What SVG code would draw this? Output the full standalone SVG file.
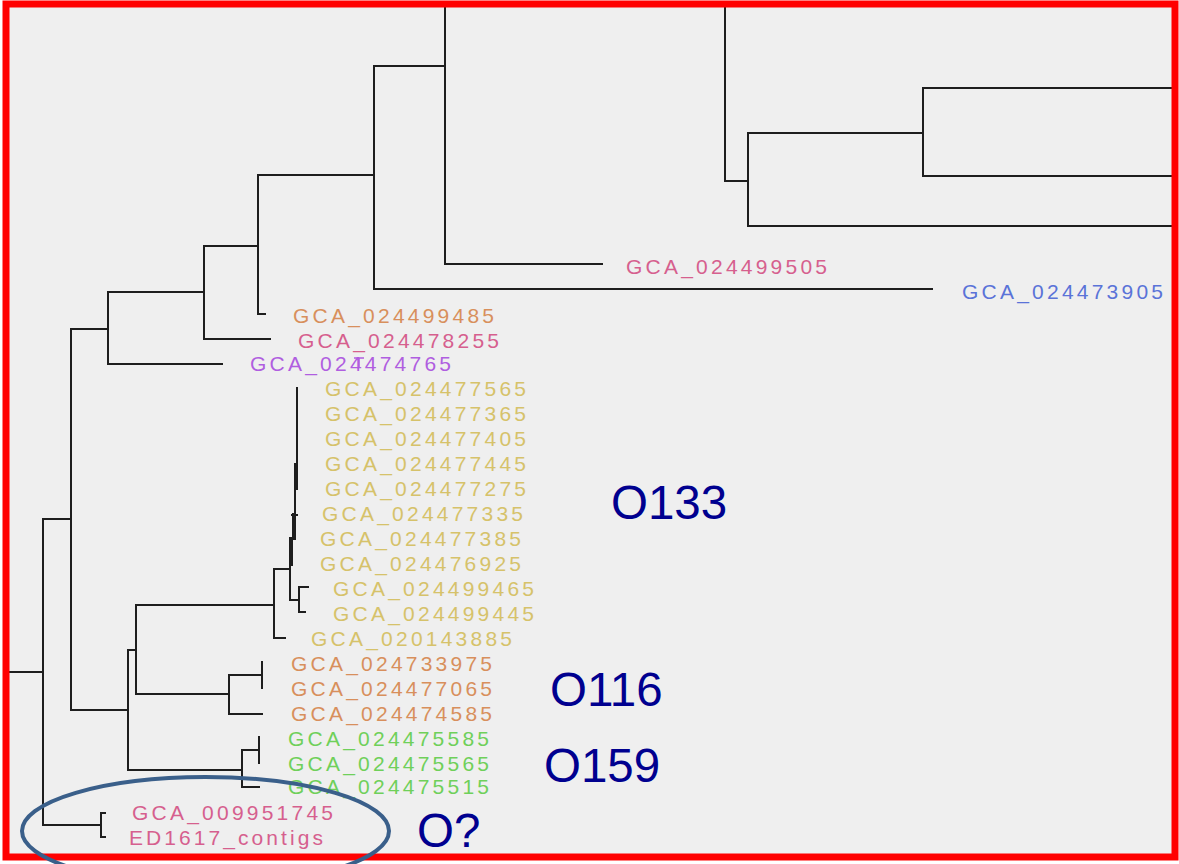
<svg xmlns="http://www.w3.org/2000/svg" width="1179" height="864" viewBox="0 0 1179 864">
<style>
.leaf{font-family:"Liberation Sans","DejaVu Sans",sans-serif;font-size:21px}
.pink{fill:#d65f8e}.orange{fill:#d88f5c}.purple{fill:#b05ee0}.yellow{fill:#d6c26a}.green{fill:#6fd05a}.blue{fill:#5a73d8}
.grp{font-family:"Liberation Sans",Arial,sans-serif;font-size:47.5px;fill:#00008f}
.br{fill:none;stroke:#1e1e1e;stroke-width:2;stroke-linecap:square}
</style>
<rect x="0" y="0" width="1179" height="864" fill="#ffffff"/>
<rect x="6" y="4" width="1169" height="853" fill="#efefef"/>
<g id="connectors" class="br">
<path d="M445 7V264H602"/>
<path d="M445 66H374V289H932"/>
<path d="M725 7V181H748"/>
<path d="M923 133H748V226H1173"/>
<path d="M1173 88H923V176H1173"/>
<path d="M374 175H258V314H265"/>
<path d="M258 246H204V339H270"/>
<path d="M204 292H108V364H222"/>
<path d="M108 329H71V710H128"/>
<path d="M71 519H43V825H101"/>
<path d="M9 672H43"/>
<path d="M105 813H101V837H105"/>
<path d="M136 650H128V770H242"/>
<path d="M274 605H136V694H229"/>
<path d="M262 675H229V714H262"/>
<path d="M262 662V688"/>
<path d="M259 750H242V787H259"/>
<path d="M259 737V763"/>
<path d="M289 569H274V638H285"/>
<path d="M290 566V600H299"/>
<path d="M308 587H299V612H305"/>
<path d="M297 388V470"/>
<path d="M295 490V515"/>
<path d="M292 515H297"/>
</g>
<g id="o133-stem" fill="#1e1e1e">
<rect x="294" y="463" width="4" height="27"/>
<rect x="292" y="513" width="4" height="27"/>
<rect x="289" y="537" width="4" height="29"/>
</g>
<g id="leaf-024499505"><text class="leaf pink" x="626" y="274" textLength="201" lengthAdjust="spacing">GCA_024499505</text></g>
<g id="leaf-024473905"><text class="leaf blue" x="962" y="299" textLength="201" lengthAdjust="spacing">GCA_024473905</text></g>
<g id="leaf-024499485"><text class="leaf orange" x="293" y="323" textLength="201" lengthAdjust="spacing">GCA_024499485</text></g>
<g id="leaf-024478255"><text class="leaf pink" x="298" y="348" textLength="201" lengthAdjust="spacing">GCA_024478255</text></g>
<g id="leaf-024474765"><text class="leaf purple" x="250" y="371" textLength="201" lengthAdjust="spacing">GCA_024474765</text><path d="M354 358H364M359 358V368" stroke="#b05ee0" stroke-width="1.5" fill="none"/></g>
<g id="leaf-024477565"><text class="leaf yellow" x="325" y="396" textLength="201" lengthAdjust="spacing">GCA_024477565</text></g>
<g id="leaf-024477365"><text class="leaf yellow" x="325" y="421" textLength="201" lengthAdjust="spacing">GCA_024477365</text></g>
<g id="leaf-024477405"><text class="leaf yellow" x="325" y="446" textLength="201" lengthAdjust="spacing">GCA_024477405</text></g>
<g id="leaf-024477445"><text class="leaf yellow" x="325" y="471" textLength="201" lengthAdjust="spacing">GCA_024477445</text></g>
<g id="leaf-024477275"><text class="leaf yellow" x="325" y="496" textLength="201" lengthAdjust="spacing">GCA_024477275</text></g>
<g id="leaf-024477335"><text class="leaf yellow" x="322" y="521" textLength="201" lengthAdjust="spacing">GCA_024477335</text></g>
<g id="leaf-024477385"><text class="leaf yellow" x="320" y="546" textLength="201" lengthAdjust="spacing">GCA_024477385</text></g>
<g id="leaf-024476925"><text class="leaf yellow" x="320" y="571" textLength="201" lengthAdjust="spacing">GCA_024476925</text></g>
<g id="leaf-024499465"><text class="leaf yellow" x="333" y="596" textLength="201" lengthAdjust="spacing">GCA_024499465</text></g>
<g id="leaf-024499445"><text class="leaf yellow" x="333" y="621" textLength="201" lengthAdjust="spacing">GCA_024499445</text></g>
<g id="leaf-020143885"><text class="leaf yellow" x="311" y="646" textLength="201" lengthAdjust="spacing">GCA_020143885</text></g>
<g id="leaf-024733975"><text class="leaf orange" x="291" y="671" textLength="201" lengthAdjust="spacing">GCA_024733975</text></g>
<g id="leaf-024477065"><text class="leaf orange" x="291" y="696" textLength="201" lengthAdjust="spacing">GCA_024477065</text></g>
<g id="leaf-024474585"><text class="leaf orange" x="291" y="721" textLength="201" lengthAdjust="spacing">GCA_024474585</text></g>
<g id="leaf-024475585"><text class="leaf green" x="288" y="746" textLength="201" lengthAdjust="spacing">GCA_024475585</text></g>
<g id="leaf-024475565"><text class="leaf green" x="288" y="771" textLength="201" lengthAdjust="spacing">GCA_024475565</text></g>
<g id="leaf-024475515"><text class="leaf green" x="288" y="794" textLength="201" lengthAdjust="spacing">GCA_024475515</text></g>
<g id="leaf-009951745"><text class="leaf pink" x="132" y="820" textLength="201" lengthAdjust="spacing">GCA_009951745</text></g>
<g id="leaf-ED1617"><text class="leaf pink" x="129" y="845" textLength="194" lengthAdjust="spacing">ED1617_contigs</text></g>
<rect id="frame" x="6" y="4" width="1169" height="853" fill="none" stroke="#ff0000" stroke-width="7"/>
<g id="group-O133"><text class="grp" x="611" y="519">O133</text></g>
<g id="group-O116"><text class="grp" x="550" y="706">O116</text></g>
<g id="group-O159"><text class="grp" x="544" y="782">O159</text></g>
<g id="group-O?"><text class="grp" x="417" y="847">O?</text></g>
<ellipse id="highlight" cx="205.5" cy="831" rx="183.5" ry="54" fill="none" stroke="#3a5f8a" stroke-width="4"/>
</svg>
